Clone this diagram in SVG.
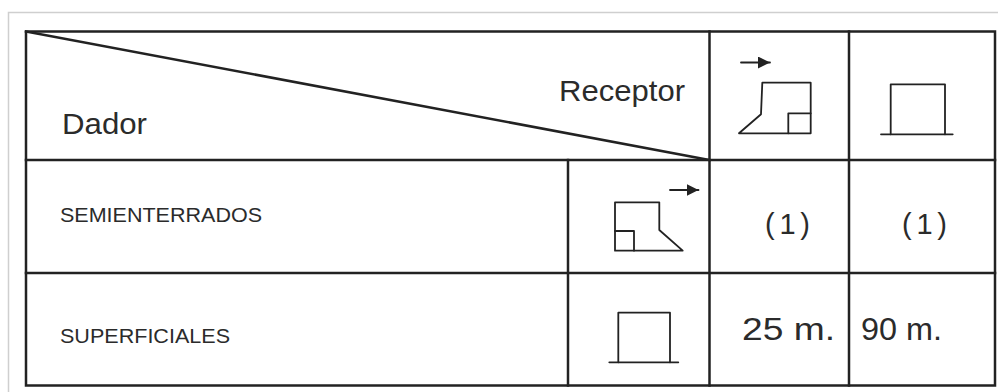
<svg xmlns="http://www.w3.org/2000/svg" width="998" height="392" viewBox="0 0 998 392">
<style>
  .grid { stroke:#222; stroke-width:2.5; fill:none; stroke-linecap:square; }
  .frame { stroke:#cfcfcf; stroke-width:1.5; fill:none; }
  .icon { stroke:#222; stroke-width:1.8; fill:none; stroke-linejoin:round; stroke-linecap:round; }
  .txt { font-family:"Liberation Sans", Arial, Helvetica, sans-serif; fill:#2b2b2b; }
</style>
<defs>
  <marker id="arr" markerWidth="14" markerHeight="14" refX="12" refY="6" orient="auto" markerUnits="userSpaceOnUse">
    <path d="M0,0 L12,6 L0,12 Z" fill="#222"/>
  </marker>
</defs>
<rect width="998" height="392" fill="#fff"/>
<path class="frame" d="M8.5,400 L8.5,12.5 L1000,12.5"/>

<g id="connectors">
  <rect class="grid" x="26" y="31.5" width="969" height="354"/>
  <line class="grid" x1="26" y1="160" x2="995" y2="160"/>
  <line class="grid" x1="26" y1="273" x2="995" y2="273"/>
  <line class="grid" x1="709.5" y1="31.5" x2="709.5" y2="385.5"/>
  <line class="grid" x1="849" y1="31.5" x2="849" y2="385.5"/>
  <line class="grid" x1="568" y1="160" x2="568" y2="385.5"/>
  <line class="grid" x1="26" y1="31.5" x2="709.5" y2="160"/>
</g>

<g id="header-corner">
  <text class="txt" x="62" y="134" font-size="29" textLength="85" lengthAdjust="spacingAndGlyphs">Dador</text>
  <text class="txt" x="559" y="101" font-size="29" textLength="126" lengthAdjust="spacingAndGlyphs">Receptor</text>
</g>

<g id="header-receptor-semi">
  <line class="icon" x1="741" y1="62.5" x2="770" y2="62.5" marker-end="url(#arr)"/>
  <path class="icon" d="M762.3,82.7 L810.7,82.7 L810.7,133.3 L739,133.3 L761,114.3 Z"/>
  <path class="icon" d="M788.3,133.3 L788.3,113.3 L810.7,113.3"/>
</g>

<g id="header-receptor-sup">
  <path class="icon" d="M890.7,134.3 L890.7,84.3 L945,84.3 L945,134.3"/>
  <line class="icon" x1="881" y1="134.3" x2="952.7" y2="134.3"/>
</g>

<g id="row-semienterrados">
  <text class="txt" x="60" y="222" font-size="21" textLength="202" lengthAdjust="spacingAndGlyphs">SEMIENTERRADOS</text>
  <line class="icon" x1="670" y1="190" x2="698.5" y2="190" marker-end="url(#arr)"/>
  <path class="icon" d="M615,202.3 L659.3,202.3 L659.3,230 L682.7,250.7 L615,250.7 Z"/>
  <path class="icon" d="M615,231 L634,231 L634,250.7"/>
  <text class="txt" x="765" y="234" font-size="29" textLength="45" lengthAdjust="spacing">(1)</text>
  <text class="txt" x="902" y="234" font-size="29" textLength="45" lengthAdjust="spacing">(1)</text>
</g>

<g id="row-superficiales">
  <text class="txt" x="60" y="343" font-size="21" textLength="170" lengthAdjust="spacingAndGlyphs">SUPERFICIALES</text>
  <path class="icon" d="M618.3,362.3 L618.3,312.7 L670,312.7 L670,362.3"/>
  <line class="icon" x1="609.3" y1="362.3" x2="678.3" y2="362.3"/>
  <text class="txt" x="742" y="340" font-size="32" textLength="93" lengthAdjust="spacingAndGlyphs">25 m.</text>
  <text class="txt" x="861" y="340" font-size="32" textLength="81" lengthAdjust="spacingAndGlyphs">90 m.</text>
</g>
</svg>
